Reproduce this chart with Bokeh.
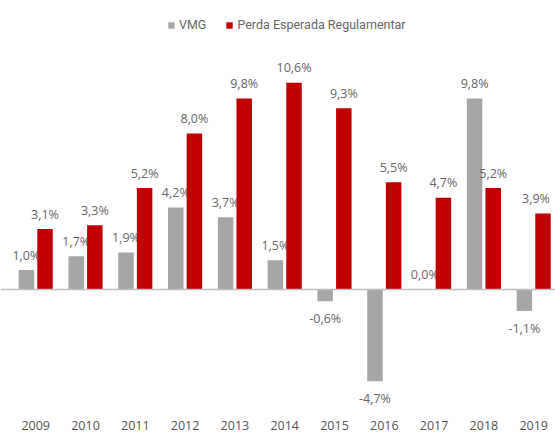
from bokeh.plotting import figure
from bokeh.models import ColumnDataSource, Span, Legend, LegendItem
from bokeh.core.properties import value
from bokeh.embed import file_html
from bokeh.resources import INLINE

# ---- data ----
years = ["2009", "2010", "2011", "2012", "2013", "2014", "2015", "2016", "2017", "2018", "2019"]
vmg = [1.0, 1.7, 1.9, 4.2, 3.7, 1.5, -0.6, -4.7, 0.0, 9.8, -1.1]
pe = [3.1, 3.3, 5.2, 8.0, 9.8, 10.6, 9.3, 5.5, 4.7, 5.2, 3.9]
series_names = ["VMG", "Perda Esperada Regulamentar"]

GRAY = "#a6a6a6"
RED = "#c00000"
LABEL_COLOR = "#666666"
FONT = "Open Sans"
LEGEND_FONT = "Roboto"

W, H = 555, 432
X_MIN, X_MAX = -0.707, 10.438
Y_MIN, Y_MAX = -7.333, 14.82
OFF = 0.187
BW = 0.311
EDGE_SHIFT = -7  # keep the last label inside the canvas


def fmt(v):
    return f"{v:.1f}".replace(".", ",") + "%"


idx = list(range(len(years)))
last = idx[-1]

p = figure(width=W, height=H, x_range=(X_MIN, X_MAX), y_range=(Y_MIN, Y_MAX),
           output_backend="svg", toolbar_location=None, min_border=0)
p.axis.visible = False
p.grid.visible = False
p.outline_line_color = None
p.background_fill_color = "white"
p.border_fill_color = "white"

zero = Span(location=0, dimension="width", line_color="#bfbfbf", line_width=1.5)
p.add_layout(zero)


def series(vals, off, color, shift_last):
    src = ColumnDataSource(dict(x=[i + off for i in idx], top=vals))
    r = p.vbar(x="x", top="top", bottom=0, width=BW, source=src,
               fill_color=color, line_color=None)
    for sign, yoff in ((True, -15), (False, 17.5)):
        sel = [(i, v) for i, v in zip(idx, vals) if (v >= 0) == sign]
        s = ColumnDataSource(dict(
            x=[i + off for i, v in sel],
            y=[v for i, v in sel],
            t=[fmt(v) for i, v in sel],
            dx=[EDGE_SHIFT if (shift_last and i == last) else 0 for i, v in sel]))
        p.text(x="x", y="y", text="t", source=s, text_align="center",
               text_baseline="alphabetic", x_offset="dx", y_offset=yoff,
               text_font=value(FONT), text_font_size="12.5px",
               text_color=LABEL_COLOR)
    return r


r1 = series(vmg, -OFF, GRAY, False)
r2 = series(pe, OFF, RED, True)

# year labels
ysrc = ColumnDataSource(dict(x=idx, y=[Y_MIN] * len(idx), t=years))
p.text(x="x", y="y", text="t", source=ysrc, text_align="center",
       text_baseline="alphabetic", y_offset=-7.5,
       text_font=value(FONT), text_font_size="12.5px", text_color="#555555")

legend = Legend(items=[LegendItem(label=series_names[0], renderers=[r1]),
                       LegendItem(label=series_names[1], renderers=[r2])],
                orientation="horizontal", location=(167, 400),
                glyph_width=8, glyph_height=8, label_standoff=4, spacing=19,
                padding=0, margin=0, label_height=14,
                border_line_alpha=0, background_fill_alpha=0,
                label_text_font=LEGEND_FONT, label_text_font_size="12.5px",
                label_text_color=LABEL_COLOR)
p.add_layout(legend, "center")

open("out.html", "w").write(file_html(p, INLINE))
